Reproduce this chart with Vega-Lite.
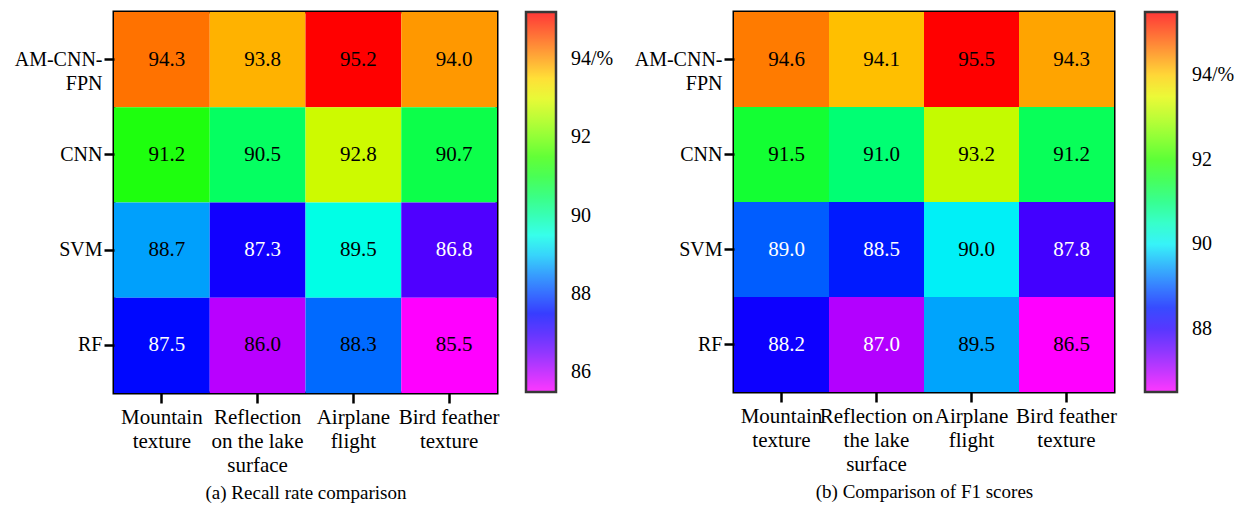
{
  "$schema": "https://vega.github.io/schema/vega-lite/v6.json",
  "padding": {"left": 12, "top": 10, "right": 5, "bottom": 5},
  "background": "white",
  "spacing": 16,
  "config": {
    "font": "Liberation Serif",
    "view": {"stroke": "black", "strokeWidth": 3},
    "axis": {
      "labelFont": "Liberation Serif",
      "labelFontSize": 20,
      "labelColor": "black",
      "tickColor": "black",
      "tickWidth": 2.5,
      "tickSize": 10,
      "domain": false,
      "grid": false,
      "titleFont": "Liberation Serif",
      "titleFontWeight": "normal",
      "titleFontSize": 19,
      "titleColor": "black"
    },
    "legend": {
      "labelFont": "Liberation Serif",
      "labelFontSize": 20,
      "labelColor": "black"
    }
  },
  "datasets": {
    "recall": [
      {"model": "AM-CNN-FPN", "scene": "Mountain texture", "value": 94.3},
      {"model": "AM-CNN-FPN", "scene": "Reflection on the lake surface", "value": 93.8},
      {"model": "AM-CNN-FPN", "scene": "Airplane flight", "value": 95.2},
      {"model": "AM-CNN-FPN", "scene": "Bird feather texture", "value": 94.0},
      {"model": "CNN", "scene": "Mountain texture", "value": 91.2},
      {"model": "CNN", "scene": "Reflection on the lake surface", "value": 90.5},
      {"model": "CNN", "scene": "Airplane flight", "value": 92.8},
      {"model": "CNN", "scene": "Bird feather texture", "value": 90.7},
      {"model": "SVM", "scene": "Mountain texture", "value": 88.7},
      {"model": "SVM", "scene": "Reflection on the lake surface", "value": 87.3},
      {"model": "SVM", "scene": "Airplane flight", "value": 89.5},
      {"model": "SVM", "scene": "Bird feather texture", "value": 86.8},
      {"model": "RF", "scene": "Mountain texture", "value": 87.5},
      {"model": "RF", "scene": "Reflection on the lake surface", "value": 86.0},
      {"model": "RF", "scene": "Airplane flight", "value": 88.3},
      {"model": "RF", "scene": "Bird feather texture", "value": 85.5}
    ],
    "f1": [
      {"model": "AM-CNN-FPN", "scene": "Mountain texture", "value": 94.6},
      {"model": "AM-CNN-FPN", "scene": "Reflection on the lake surface", "value": 94.1},
      {"model": "AM-CNN-FPN", "scene": "Airplane flight", "value": 95.5},
      {"model": "AM-CNN-FPN", "scene": "Bird feather texture", "value": 94.3},
      {"model": "CNN", "scene": "Mountain texture", "value": 91.5},
      {"model": "CNN", "scene": "Reflection on the lake surface", "value": 91.0},
      {"model": "CNN", "scene": "Airplane flight", "value": 93.2},
      {"model": "CNN", "scene": "Bird feather texture", "value": 91.2},
      {"model": "SVM", "scene": "Mountain texture", "value": 89.0},
      {"model": "SVM", "scene": "Reflection on the lake surface", "value": 88.5},
      {"model": "SVM", "scene": "Airplane flight", "value": 90.0},
      {"model": "SVM", "scene": "Bird feather texture", "value": 87.8},
      {"model": "RF", "scene": "Mountain texture", "value": 88.2},
      {"model": "RF", "scene": "Reflection on the lake surface", "value": 87.0},
      {"model": "RF", "scene": "Airplane flight", "value": 89.5},
      {"model": "RF", "scene": "Bird feather texture", "value": 86.5}
    ]
  },
  "resolve": {
    "scale": {"color": "independent", "x": "independent", "y": "independent"},
    "legend": {"color": "independent"}
  },
  "hconcat": [
    {
      "width": 383,
      "height": 381,
      "data": {"name": "recall"},
      "encoding": {
        "x": {
          "field": "scene", "type": "nominal",
          "sort": ["Mountain texture", "Reflection on the lake surface", "Airplane flight", "Bird feather texture"],
          "axis": {
            "title": "(a) Recall rate comparison",
            "labelAngle": 0,
            "labelBaseline": "top",
            "labelFontSize": 21,
            "labelPadding": 3,
            "labelLineHeight": 24,
            "titlePadding": 8,
            "labelExpr": "datum.value == 'Mountain texture' ? ['Mountain', 'texture'] : datum.value == 'Reflection on the lake surface' ? ['Reflection', 'on the lake', 'surface'] : datum.value == 'Airplane flight' ? ['Airplane', 'flight'] : ['Bird feather', 'texture']"
          }
        },
        "y": {
          "field": "model", "type": "nominal",
          "sort": ["AM-CNN-FPN", "CNN", "SVM", "RF"],
          "axis": {
            "title": null,
            "labelPadding": 2,
            "labelLineHeight": 24,
            "labelExpr": "datum.value == 'AM-CNN-FPN' ? ['AM-CNN-', 'FPN'] : datum.label"
          }
        }
      },
      "layer": [
        {
          "mark": {"type": "rect"},
          "encoding": {
            "color": {
              "field": "value", "type": "quantitative",
              "scale": {
                "range": ["#ff00ff", "#7700ff", "#0000ff", "#0077ff", "#00fff6", "#00ff73", "#22ff00", "#95ff00", "#fff600", "#ff7b00", "#ff0000"],
                "interpolate": "rgb",
                "zero": false,
                "nice": false
              },
              "legend": {
                "title": null,
                "orient": "right",
                "offset": 29,
                "direction": "vertical",
                "gradientLength": 380,
                "gradientThickness": 30,
                "gradientStrokeColor": "black",
                "gradientStrokeWidth": 2.5,
                "gradientOpacity": 0.78,
                "values": [86, 88, 90, 92, 94],
                "labelOverlap": false,
                "labelOffset": 15,
                "labelExpr": "datum.value == 94 ? '94/%' : datum.label"
              }
            }
          }
        },
        {
          "mark": {"type": "text", "font": "Liberation Serif", "fontSize": 21, "dx": 5},
          "encoding": {
            "text": {"field": "value", "type": "quantitative", "format": ".1f"},
            "color": {
              "condition": {"test": "datum.value > 86.5 && datum.value < 88", "value": "white"},
              "value": "black"
            }
          }
        }
      ]
    },
    {
      "width": 380,
      "height": 380,
      "data": {"name": "f1"},
      "encoding": {
        "x": {
          "field": "scene", "type": "nominal",
          "sort": ["Mountain texture", "Reflection on the lake surface", "Airplane flight", "Bird feather texture"],
          "axis": {
            "title": "(b) Comparison of F1 scores",
            "labelAngle": 0,
            "labelBaseline": "top",
            "labelFontSize": 21,
            "labelPadding": 3,
            "labelLineHeight": 24,
            "titlePadding": 8,
            "labelExpr": "datum.value == 'Mountain texture' ? ['Mountain', 'texture'] : datum.value == 'Reflection on the lake surface' ? ['Reflection on', 'the lake', 'surface'] : datum.value == 'Airplane flight' ? ['Airplane', 'flight'] : ['Bird feather', 'texture']"
          }
        },
        "y": {
          "field": "model", "type": "nominal",
          "sort": ["AM-CNN-FPN", "CNN", "SVM", "RF"],
          "axis": {
            "title": null,
            "labelPadding": 2,
            "labelLineHeight": 24,
            "labelExpr": "datum.value == 'AM-CNN-FPN' ? ['AM-CNN-', 'FPN'] : datum.label"
          }
        }
      },
      "layer": [
        {
          "mark": {"type": "rect"},
          "encoding": {
            "color": {
              "field": "value", "type": "quantitative",
              "scale": {
                "range": ["#ff00ff", "#7700ff", "#0000ff", "#0077ff", "#00fff6", "#00ff73", "#22ff00", "#95ff00", "#fff600", "#ff7b00", "#ff0000"],
                "interpolate": "rgb",
                "zero": false,
                "nice": false
              },
              "legend": {
                "title": null,
                "orient": "right",
                "offset": 31,
                "direction": "vertical",
                "gradientLength": 380,
                "gradientThickness": 32,
                "gradientStrokeColor": "black",
                "gradientStrokeWidth": 2.5,
                "gradientOpacity": 0.78,
                "values": [88, 90, 92, 94],
                "labelOverlap": false,
                "labelOffset": 15,
                "labelExpr": "datum.value == 94 ? '94/%' : datum.label"
              }
            }
          }
        },
        {
          "mark": {"type": "text", "font": "Liberation Serif", "fontSize": 21, "dx": 5},
          "encoding": {
            "text": {"field": "value", "type": "quantitative", "format": ".1f"},
            "color": {
              "condition": {"test": "datum.value > 86.8 && datum.value < 89.2", "value": "white"},
              "value": "black"
            }
          }
        }
      ]
    }
  ]
}
